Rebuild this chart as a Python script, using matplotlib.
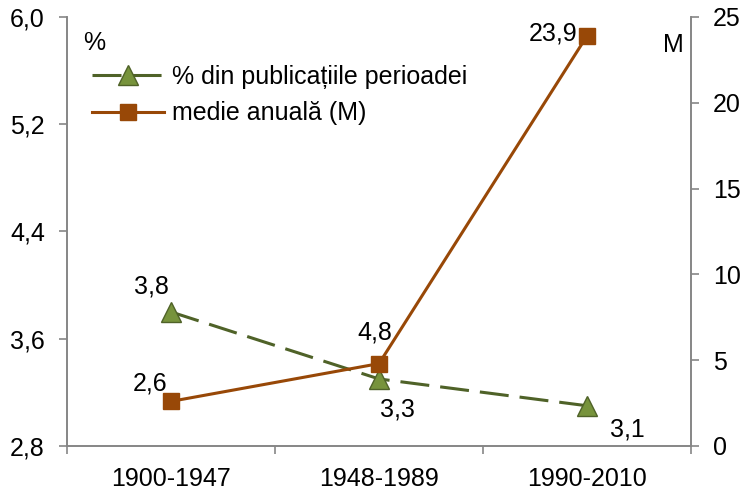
import matplotlib.pyplot as plt
import numpy as np

plt.rcParams['font.family'] = ['Liberation Sans', 'DejaVu Sans']

perioade = ['1900-1947', '1948-1989', '1990-2010']
procent = [3.8, 3.3, 3.1]
medie = [2.6, 4.8, 23.9]
left_ticks = [2.8, 3.6, 4.4, 5.2, 6.0]
right_ticks = [0, 5, 10, 15, 20, 25]

verde_linie = '#4F6228'
verde_fill = '#77933C'
maro = '#984807'
gri = '#868686'
fs = 18

def virgula(v):
    return f'{v:.1f}'.replace('.', ',')

fig = plt.figure(figsize=(7.46, 4.94), dpi=100)
ax = fig.add_axes([0.0898, 0.0972, 0.8365, 0.8684])
ax2 = ax.twinx()

x = np.arange(len(perioade))
l1, = ax.plot(x, procent, color=verde_linie, lw=2.2, dashes=(9.5, 3.6),
              marker='^', ms=14, mfc=verde_fill, mec=verde_linie, mew=1,
              label='% din publicațiile perioadei')
l2, = ax2.plot(x, medie, color=maro, lw=2.2, marker='s', ms=12,
               mfc=maro, mec=maro, label='medie anuală (M)')

ax.set_xlim(-0.5, 2.5)
ax.set_ylim(2.8, 6.0)
ax2.set_ylim(0, 25)
ax.set_yticks(left_ticks)
ax.set_yticklabels([virgula(v) for v in left_ticks])
ax2.set_yticks(right_ticks)
ax.set_xticks(x)
ax.set_xticklabels(perioade)
ax.set_xticks([-0.5, 0.5, 1.5, 2.5], minor=True)

for a in (ax, ax2):
    a.spines['top'].set_visible(False)
    for s in ('left', 'right', 'bottom'):
        a.spines[s].set_color(gri)
        a.spines[s].set_linewidth(1.2)
    a.tick_params(axis='y', length=6, width=1.2, color=gri, labelsize=fs, pad=10)
ax.tick_params(axis='x', which='major', length=0, labelsize=fs, pad=15)
ax.tick_params(axis='x', which='minor', length=6, width=1.2, color=gri)

# etichete de date (deplasari in pixeli fata de marker)
pos1 = [(-2, 13, 'right', 'bottom'), (1, -19, 'left', 'top'), (23, -12, 'left', 'top')]
for i, v in enumerate(procent):
    dx, dy, ha, va = pos1[i]
    ax.annotate(virgula(v), (x[i], v), xytext=(dx, dy), textcoords='offset pixels',
                ha=ha, va=va, fontsize=fs)
pos2 = [(-4, 6, 'right', 'bottom'), (13, 19, 'right', 'bottom'), (-10, 2, 'right', 'center')]
for i, v in enumerate(medie):
    dx, dy, ha, va = pos2[i]
    ax2.annotate(virgula(v), (x[i], v), xytext=(dx, dy), textcoords='offset pixels',
                 ha=ha, va=va, fontsize=fs)

ax.text(0.0257, 0.923, '%', transform=ax.transAxes, fontsize=fs, ha='left', va='baseline')
ax.text(0.989, 0.918, 'M', transform=ax.transAxes, fontsize=fs, ha='right', va='baseline')

ax.legend(handles=[l1, l2], loc='center left', bbox_to_anchor=(0.04, 0.818),
          frameon=False, fontsize=fs, handlelength=2.9, handletextpad=0.3,
          labelspacing=0.5, borderaxespad=0, borderpad=0)

fig.savefig('out.png', dpi=100)
